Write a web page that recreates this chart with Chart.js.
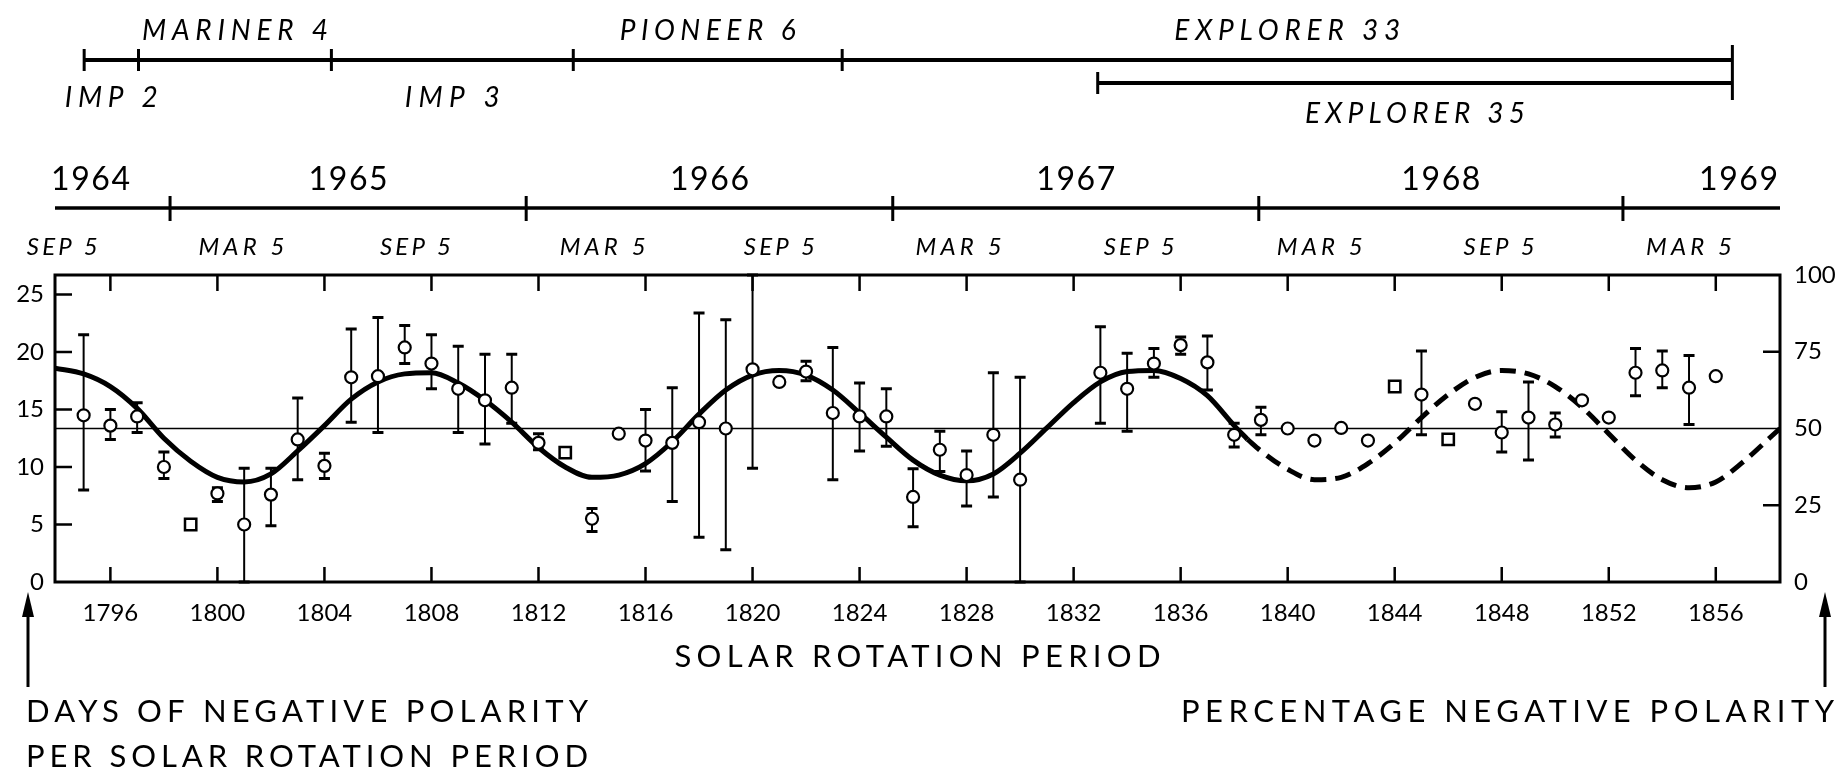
<!DOCTYPE html>
<html>
<head>
<meta charset="utf-8">
<script src="https://cdn.jsdelivr.net/npm/chart.js@4.4.0/dist/chart.umd.min.js"></script>
<style>
  html, body { margin: 0; padding: 0; background: #fff; }
  #wrap { width: 1843px; height: 775px; }
</style>
</head>
<body>
<div id="wrap"><canvas id="myChart" width="1843" height="775"></canvas></div>
<script>
// measured rotations: days of negative polarity, with error range (null = no bar)
const rotations = [1795, 1796, 1797, 1798, 1799, 1800, 1801, 1802, 1803, 1804, 1805, 1806, 1807, 1808, 1809, 1810, 1811, 1812, 1813, 1814,
  1815, 1816, 1817, 1818, 1819, 1820, 1821, 1822, 1823, 1824, 1825, 1826, 1827, 1828, 1829, 1830, 1833, 1834, 1835, 1836,
  1837, 1838, 1839, 1840, 1841, 1842, 1843, 1844, 1845, 1846, 1847, 1848, 1849, 1850, 1851, 1852, 1853, 1854, 1855, 1856];
const negDays = [14.5, 13.6, 14.4, 10.0, 5.0, 7.7, 5.0, 7.6, 12.4, 10.1, 17.8, 17.9, 20.4, 19.0, 16.8, 15.8, 16.9, 12.1, 11.25, 5.5,
  12.9, 12.3, 12.1, 13.9, 13.35, 18.5, 17.4, 18.3, 14.7, 14.4, 14.4, 7.4, 11.5, 9.3, 12.8, 8.9, 18.2, 16.8, 19.0, 20.6,
  19.1, 12.8, 14.1, 13.35, 12.3, 13.4, 12.3, 17.0, 16.3, 12.4, 15.5, 13.0, 14.3, 13.7, 15.8, 14.3, 18.2, 18.4, 16.9, 17.9];
const errLow = [8.0, 12.4, 13.0, 9.0, null, 7.0, 0, 4.9, 8.9, 9.0, 13.9, 13.0, 19.0, 16.8, 13.0, 12.0, 13.8, 11.5, null, 4.4,
  null, 9.65, 7.0, 3.9, 2.8, 9.9, null, 17.5, 8.9, 11.4, 11.8, 4.8, 9.6, 6.6, 7.4, 0, 13.8, 13.1, 17.8, 19.8,
  16.7, 11.75, 12.8, null, null, null, null, null, 12.8, null, null, 11.3, 10.6, 12.6, null, null, 16.2, 16.9, 13.7, null];
const errHigh = [21.5, 15.0, 15.6, 11.3, null, 8.2, 9.9, 9.9, 16.0, 11.2, 22.0, 23.0, 22.3, 21.5, 20.5, 19.8, 19.8, 12.9, null, 6.4,
  null, 15.0, 16.9, 23.4, 22.8, 26.7, null, 19.2, 20.4, 17.3, 16.8, 9.85, 13.1, 11.4, 18.2, 17.8, 22.2, 19.9, 20.3, 21.3,
  21.4, 13.8, 15.2, null, null, null, null, null, 20.1, null, null, 14.8, 17.4, 14.7, null, null, 20.3, 20.1, 19.7, null];
// rotations plotted with square symbols
const squareRots = [1799, 1813, 1844, 1846];

// fitted curve, solid part then dashed extrapolation
const fitRot = [1793.93, 1795, 1796, 1797, 1798, 1799, 1800, 1801, 1802, 1803, 1804, 1805, 1806, 1807, 1808, 1809, 1810, 1811, 1812, 1813,
  1814, 1815, 1816, 1817, 1818, 1819, 1820, 1821, 1822, 1823, 1824, 1825, 1826, 1827, 1828, 1829, 1830, 1831, 1832, 1833,
  1834, 1835, 1836, 1837, 1838, 1838.5];
const fitDays = [18.6, 18.1, 17.0, 15.1, 12.5, 10.5, 9.1, 8.7, 9.4, 11.4, 13.6, 15.9, 17.4, 18.1, 18.2, 17.3, 15.8, 13.9, 11.7, 10.0,
  9.1, 9.3, 10.3, 12.2, 14.6, 16.7, 18.0, 18.4, 18.0, 16.7, 14.7, 12.6, 10.6, 9.3, 8.8, 9.4, 11.2, 13.4, 15.6, 17.4,
  18.3, 18.4, 17.7, 16.2, 13.6, 12.4];
const dashRot = [1838.5, 1839, 1840, 1841, 1842, 1843, 1844, 1845, 1846, 1847, 1848, 1849, 1850, 1851, 1852, 1853, 1854, 1855, 1856, 1857, 1858, 1858.4];
const dashDays = [12.4, 11.4, 9.8, 8.9, 9.1, 10.3, 12.1, 14.3, 16.3, 17.8, 18.4, 18.1, 17.0, 15.2, 12.9, 10.6, 8.9, 8.2, 8.7, 10.4, 12.5, 13.35];

// axes
const xRange = [1793.93, 1858.4];
const daysMax = 26.7;
const xTicks = [1796, 1800, 1804, 1808, 1812, 1816, 1820, 1824, 1828, 1832, 1836, 1840, 1844, 1848, 1852, 1856];
const dayTicks = [0, 5, 10, 15, 20, 25];
const pctTicks = [0, 25, 50, 75, 100];

// calendar strip (positions in rotation numbers)
const yearNames = ['1964', '1965', '1966', '1967', '1968', '1969'];
const yearStartRot = [1798.23, 1811.54, 1825.24, 1838.92, 1852.53];
const monthNames = ['SEP 5', 'MAR 5', 'SEP 5', 'MAR 5', 'SEP 5', 'MAR 5', 'SEP 5', 'MAR 5', 'SEP 5', 'MAR 5'];
const monthRot = [1794.2, 1800.9, 1807.4, 1814.4, 1821.0, 1827.7, 1834.45, 1841.2, 1847.9, 1855.0];

// spacecraft coverage
const craftNames = ['IMP 2', 'MARINER 4', 'IMP 3', 'PIONEER 6', 'EXPLORER 33', 'EXPLORER 35'];
const craftStart = [1795.02, 1797.05, 1804.26, 1813.3, 1823.35, 1832.9];
const craftEnd = [1797.05, 1804.26, 1813.3, 1823.35, 1856.62, 1856.62];

const FONT = 'Lato, "DejaVu Sans", sans-serif';

function fitText(ctx, text, x, baseY, font, width, align) {
  ctx.font = font;
  ctx.letterSpacing = '0px';
  const w0 = ctx.measureText(text).width;
  const n = text.length - 1;
  const sp = n > 0 ? (width - w0) / n : 0;
  let left = x;
  if (align === 'center') left = x - width / 2;
  else if (align === 'right') left = x - width;
  ctx.letterSpacing = sp + 'px';
  ctx.textAlign = 'left';
  ctx.textBaseline = 'alphabetic';
  ctx.fillText(text, left, baseY);
  ctx.letterSpacing = '0px';
}

function arrowUp(ctx, x, top, bottom) {
  ctx.lineWidth = 3;
  ctx.beginPath();
  ctx.moveTo(x, bottom);
  ctx.lineTo(x, top + 14);
  ctx.stroke();
  ctx.beginPath();
  ctx.moveTo(x, top);
  ctx.lineTo(x - 6, top + 25);
  ctx.lineTo(x + 6, top + 25);
  ctx.closePath();
  ctx.fill();
}

const errorBars = {
  id: 'errorBars',
  beforeDatasetsDraw(chart) {
    const { ctx, chartArea: a, scales: { x, y } } = chart;
    ctx.save();
    ctx.beginPath();
    ctx.rect(a.left, a.top - 2, a.width, a.height + 4);
    ctx.clip();
    ctx.strokeStyle = '#000';
    rotations.forEach((r, i) => {
      if (errLow[i] === null) return;
      const px = x.getPixelForValue(r);
      const top = y.getPixelForValue(errHigh[i]);
      const bot = y.getPixelForValue(errLow[i]);
      ctx.lineWidth = 2;
      ctx.beginPath();
      ctx.moveTo(px, top);
      ctx.lineTo(px, bot);
      ctx.stroke();
      ctx.lineWidth = 3;
      ctx.beginPath();
      ctx.moveTo(px - 5.5, top);
      ctx.lineTo(px + 5.5, top);
      ctx.moveTo(px - 5.5, bot);
      ctx.lineTo(px + 5.5, bot);
      ctx.stroke();
    });
    ctx.restore();
  }
};

const decorations = {
  id: 'decorations',
  afterDraw(chart) {
    const { ctx, chartArea: a, scales: { x, y, y2 } } = chart;
    ctx.save();
    ctx.strokeStyle = '#000';
    ctx.fillStyle = '#000';
    ctx.lineCap = 'butt';

    // frame and inward ticks
    ctx.lineWidth = 3;
    ctx.strokeRect(a.left, a.top, a.width, a.height);
    ctx.lineWidth = 2.5;
    ctx.beginPath();
    xTicks.forEach(v => {
      const p = x.getPixelForValue(v);
      ctx.moveTo(p, a.top); ctx.lineTo(p, a.top + 16);
      ctx.moveTo(p, a.bottom); ctx.lineTo(p, a.bottom - 15);
    });
    dayTicks.filter(v => v > 0).forEach(v => {
      const p = y.getPixelForValue(v);
      ctx.moveTo(a.left, p); ctx.lineTo(a.left + 17, p);
    });
    pctTicks.filter(v => v > 0 && v < 100 && v !== 50).forEach(v => {
      const p = y2.getPixelForValue(v);
      ctx.moveTo(a.right, p); ctx.lineTo(a.right - 17, p);
    });
    ctx.stroke();

    // spacecraft strip
    const rowY = [60, 83];
    const labelSide = ['below', 'above', 'below', 'above', 'above', 'below'];
    const labelW = [93, 186, 95, 176, 226, 220];
    const rows = craftNames.map((n, i) => (i > 0 && craftStart[i] < craftEnd[i - 1] ? 1 : 0));
    craftNames.forEach((name, i) => {
      const x0 = x.getPixelForValue(craftStart[i]);
      const x1 = x.getPixelForValue(craftEnd[i]);
      const yy = rowY[rows[i]];
      ctx.lineWidth = 4;
      ctx.beginPath();
      ctx.moveTo(x0, yy); ctx.lineTo(x1, yy);
      ctx.stroke();
      ctx.lineWidth = 3;
      ctx.beginPath();
      ctx.moveTo(x0, yy - 11); ctx.lineTo(x0, yy + 11);
      ctx.stroke();
      const mid = (x0 + x1) / 2;
      let base;
      if (labelSide[i] === 'above') base = 40;
      else base = rows[i] === 0 ? 107 : 123;
      fitText(ctx, name, mid, base, 'italic 28px ' + FONT, labelW[i], 'center');
    });
    const xe = x.getPixelForValue(craftEnd[craftEnd.length - 1]);
    ctx.lineWidth = 3;
    ctx.beginPath();
    ctx.moveTo(xe, 45); ctx.lineTo(xe, 100);
    ctx.stroke();

    // calendar strip
    const yearY = 208;
    ctx.lineWidth = 3.5;
    ctx.beginPath();
    ctx.moveTo(a.left, yearY); ctx.lineTo(a.right, yearY);
    ctx.stroke();
    ctx.lineWidth = 3;
    ctx.beginPath();
    yearStartRot.forEach(r => {
      const p = x.getPixelForValue(r);
      ctx.moveTo(p, yearY - 12); ctx.lineTo(p, yearY + 13);
    });
    ctx.stroke();
    const bounds = [xRange[0], ...yearStartRot, xRange[1]];
    yearNames.forEach((yr, i) => {
      const font = '32px ' + FONT;
      if (i === 0) fitText(ctx, yr, a.left - 4, 190, font, 79, 'left');
      else if (i === yearNames.length - 1) fitText(ctx, yr, a.right - 2, 190, font, 79, 'right');
      else {
        const mid = x.getPixelForValue((bounds[i] + bounds[i + 1]) / 2);
        fitText(ctx, yr, mid, 190, font, 79, 'center');
      }
    });
    monthNames.forEach((m, i) => {
      const p = x.getPixelForValue(monthRot[i]);
      fitText(ctx, m, p, 255, 'italic 24px ' + FONT, m.startsWith('SEP') ? 71 : 86, 'center');
    });

    // axis titles and arrows
    fitText(ctx, 'SOLAR ROTATION PERIOD', (a.left + a.right) / 2, 667, '31px ' + FONT, 486, 'center');
    fitText(ctx, 'DAYS OF NEGATIVE POLARITY', 26, 722, '31px ' + FONT, 562, 'left');
    fitText(ctx, 'PER SOLAR ROTATION PERIOD', 26, 767, '31px ' + FONT, 562, 'left');
    fitText(ctx, 'PERCENTAGE NEGATIVE POLARITY', 1834, 722, '31px ' + FONT, 653, 'right');
    arrowUp(ctx, 28, 592, 687);
    arrowUp(ctx, 1825, 592, 687);
    ctx.restore();
  }
};

const circlePts = [];
const squarePts = [];
rotations.forEach((r, i) => {
  const pt = { x: r, y: negDays[i] };
  if (squareRots.includes(r)) squarePts.push(pt); else circlePts.push(pt);
});

const tickFont = { family: FONT, size: 24 };

new Chart('myChart', {
  type: 'scatter',
  data: {
    datasets: [
      {
        data: circlePts,
        pointStyle: 'circle',
        pointRadius: 6,
        borderWidth: 2.2,
        borderColor: '#000',
        backgroundColor: '#fff'
      },
      {
        data: squarePts,
        pointStyle: 'rect',
        pointRadius: 8,
        borderWidth: 2.5,
        borderColor: '#000',
        backgroundColor: '#fff'
      },
      {
        data: fitRot.map((r, i) => ({ x: r, y: fitDays[i] })),
        showLine: true,
        pointRadius: 0,
        borderColor: '#000',
        borderWidth: 5,
        cubicInterpolationMode: 'monotone'
      },
      {
        data: dashRot.map((r, i) => ({ x: r, y: dashDays[i] })),
        showLine: true,
        pointRadius: 0,
        borderColor: '#000',
        borderWidth: 5,
        borderDash: [16, 9],
        cubicInterpolationMode: 'monotone'
      },
      {
        data: [{ x: xRange[0], y: 50 }, { x: xRange[1], y: 50 }],
        yAxisID: 'y2',
        showLine: true,
        pointRadius: 0,
        borderColor: '#000',
        borderWidth: 1.6
      }
    ]
  },
  options: {
    responsive: false,
    animation: false,
    devicePixelRatio: 1,
    layout: { padding: { top: 275, bottom: 150, left: 0, right: 0 } },
    plugins: { legend: { display: false }, tooltip: { enabled: false } },
    scales: {
      x: {
        type: 'linear',
        position: 'bottom',
        min: xRange[0],
        max: xRange[1],
        afterBuildTicks: s => { s.ticks = xTicks.map(v => ({ value: v })); },
        afterFit: s => { s.height = 43; },
        grid: { display: false, drawTicks: false },
        border: { display: false },
        ticks: { color: '#000', font: tickFont, padding: 17, maxRotation: 0, autoSkip: false, callback: v => String(v) }
      },
      y: {
        position: 'left',
        min: 0,
        max: daysMax,
        afterBuildTicks: s => { s.ticks = dayTicks.map(v => ({ value: v })); },
        afterFit: s => { s.width = 55; },
        grid: { display: false, drawTicks: false },
        border: { display: false },
        ticks: { color: '#000', font: tickFont, padding: 11, callback: v => String(v) }
      },
      y2: {
        position: 'right',
        min: 0,
        max: 100,
        afterBuildTicks: s => { s.ticks = pctTicks.map(v => ({ value: v })); },
        afterFit: s => { s.width = 63; },
        grid: { display: false, drawTicks: false },
        border: { display: false },
        ticks: { color: '#000', font: tickFont, padding: 14, callback: v => String(v) }
      }
    }
  },
  plugins: [errorBars, decorations]
});
</script>
</body>
</html>
